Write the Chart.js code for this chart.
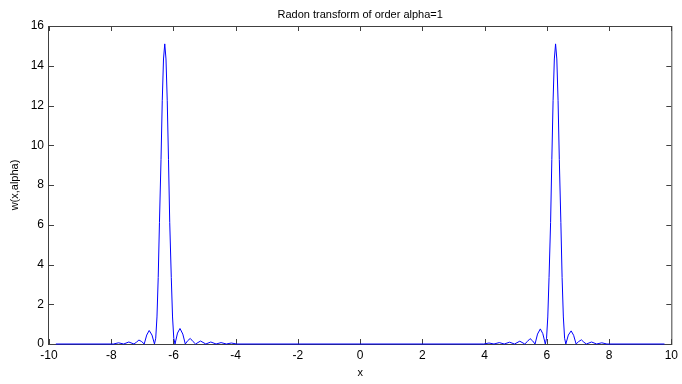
<!DOCTYPE html>
<html>
<head>
<meta charset="utf-8">
<title>Radon transform of order alpha=1</title>
<script src="https://cdn.jsdelivr.net/npm/chart.js@4/dist/chart.umd.min.js"></script>
<style>
    html, body { margin: 0; padding: 0; background: #fff; }
</style>
</head>
<body>
<canvas id="radonChart" width="682" height="384"></canvas>
<script>
// --- DATA ---
const xValues = [
    -9.78,
    -7.93, -7.765, -7.60, -7.435, -7.27, -7.19, -7.11, -7.02, -6.94, -6.86, -6.78, -6.69,
    -6.61, -6.57, -6.53, -6.49, -6.45, -6.40, -6.36, -6.32, -6.28, -6.24, -6.20, -6.16,
    -6.12, -6.07, -6.03, -5.99, -5.95, -5.87, -5.79, -5.70, -5.62, -5.54, -5.46, -5.37,
    -5.29, -5.13, -4.96, -4.80, -4.63, -4.47, -4.30, -4.14, -3.97,
    3.97, 4.14, 4.30, 4.47, 4.63, 4.80, 4.96, 5.13, 5.29, 5.37, 5.46, 5.54,
    5.62, 5.70, 5.79, 5.87, 5.95, 5.99, 6.03, 6.07, 6.12, 6.16, 6.20, 6.24,
    6.28, 6.32, 6.36, 6.40, 6.45, 6.49, 6.53, 6.57, 6.61, 6.69, 6.78, 6.86,
    6.94, 7.02, 7.11, 7.19, 7.27, 7.435, 7.60, 7.765, 7.93,
    9.78
];
const wValues = [
    0,
    0, 0.06, 0, 0.10, 0, 0.09, 0.20, 0.12, 0, 0.45, 0.68, 0.45,
    0, 0.29, 1.36, 3.34, 6.12, 9.29, 12.24, 14.34, 15.1, 14.34, 12.24, 9.29,
    6.12, 3.34, 1.36, 0.29, 0, 0.55, 0.78, 0.50, 0, 0.17, 0.28, 0.12,
    0, 0.15, 0, 0.10, 0, 0.07, 0, 0.05, 0,
    0, 0.05, 0, 0.07, 0, 0.09, 0, 0.14, 0, 0.12, 0.27, 0.16,
    0, 0.50, 0.76, 0.52, 0, 0.29, 1.36, 3.34, 6.12, 9.29, 12.24, 14.34,
    15.1, 14.34, 12.24, 9.29, 6.12, 3.34, 1.36, 0.29, 0, 0.45, 0.66, 0.44,
    0, 0.12, 0.21, 0.09, 0, 0.10, 0, 0.06, 0,
    0
];
const xTicks = [-10, -8, -6, -4, -2, 0, 2, 4, 6, 8, 10];
const yTicks = [0, 2, 4, 6, 8, 10, 12, 14, 16];

const titleText = 'Radon transform of order alpha=1';
const xLabel = 'x';
const yLabel = 'w(x,alpha)';

const FONT = '"Liberation Sans", Arial, Helvetica, sans-serif';

// MATLAB-style box with inward ticks, plus title and axis labels
const matlabFrame = {
    id: 'matlabFrame',
    beforeDatasetsDraw(chart) {
        const { ctx, chartArea: a, scales: { x, y } } = chart;
        const tick = 5;
        ctx.save();
        ctx.strokeStyle = '#404040';
        ctx.lineWidth = 1;
        ctx.strokeRect(a.left - 0.5, a.top + 0.5, a.right - a.left + 1, a.bottom - a.top);
        ctx.beginPath();
        xTicks.forEach(v => {
            const px = Math.round(x.getPixelForValue(v)) + 0.5;
            ctx.moveTo(px, a.bottom); ctx.lineTo(px, a.bottom - tick);
            ctx.moveTo(px, a.top); ctx.lineTo(px, a.top + tick);
        });
        yTicks.forEach(v => {
            const py = Math.round(y.getPixelForValue(v)) + 0.5;
            ctx.moveTo(a.left, py); ctx.lineTo(a.left + tick, py);
            ctx.moveTo(a.right, py); ctx.lineTo(a.right - tick, py);
        });
        ctx.stroke();
        ctx.restore();
    },
    afterDraw(chart) {
        const { ctx, chartArea: a } = chart;
        const cx = (a.left + a.right) / 2;
        ctx.save();
        ctx.fillStyle = '#000';
        ctx.font = '11px ' + FONT;
        ctx.textAlign = 'center';
        ctx.textBaseline = 'alphabetic';
        ctx.fillText(titleText, cx, 18);
        ctx.fillText(xLabel, cx, 376);
        ctx.translate(18, (a.top + a.bottom) / 2);
        ctx.rotate(-Math.PI / 2);
        ctx.fillText(yLabel, 0, 0);
        ctx.restore();
    }
};

new Chart(document.getElementById('radonChart').getContext('2d'), {
    type: 'line',
    data: {
        datasets: [{
            data: xValues.map((v, i) => ({ x: v, y: wValues[i] })),
            borderColor: '#0000ff',
            borderWidth: 1,
            pointRadius: 0,
            tension: 0,
            fill: false,
            clip: 4
        }]
    },
    options: {
        responsive: false,
        animation: false,
        layout: { padding: { left: 0, top: 26, right: 8, bottom: 0 } },
        plugins: {
            legend: { display: false },
            tooltip: { enabled: false }
        },
        scales: {
            x: {
                type: 'linear',
                min: -10,
                max: 10,
                grid: { display: false, drawTicks: false },
                border: { display: false },
                afterBuildTicks: s => { s.ticks = xTicks.map(v => ({ value: v })); },
                afterFit: s => { s.height = 40; },
                ticks: {
                    autoSkip: false,
                    maxRotation: 0,
                    padding: 4,
                    color: '#000',
                    font: { family: FONT, size: 12 }
                }
            },
            y: {
                min: 0,
                max: 16,
                grid: { display: false, drawTicks: false },
                border: { display: false },
                afterBuildTicks: s => { s.ticks = yTicks.map(v => ({ value: v })); },
                afterFit: s => { s.width = 49; },
                ticks: {
                    padding: 5,
                    color: '#000',
                    font: { family: FONT, size: 12 }
                }
            }
        }
    },
    plugins: [matlabFrame]
});
</script>
</body>
</html>
